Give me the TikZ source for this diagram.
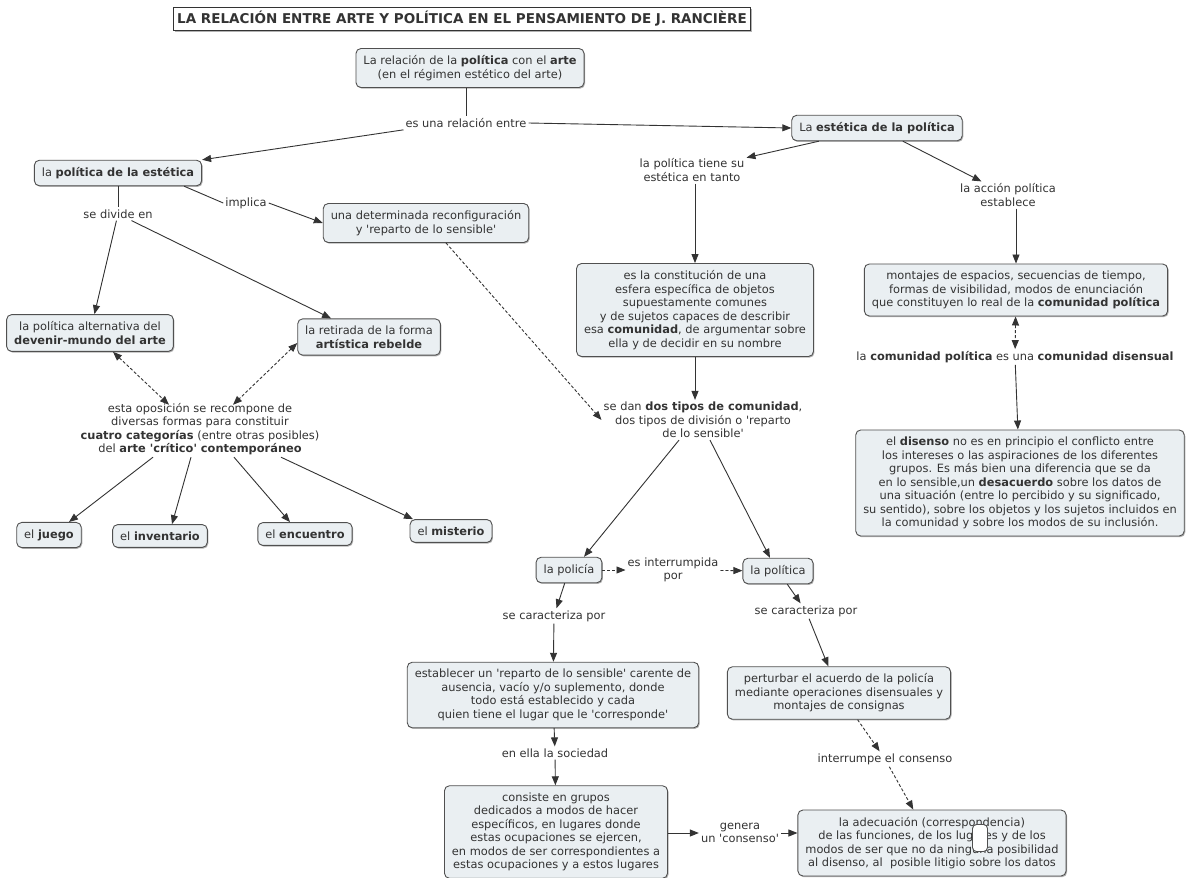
\documentclass[tikz,border=0pt]{standalone}
\usepackage{fontspec}
\setmainfont{DejaVu Sans}[Ligatures=TeXOff]
\usetikzlibrary{arrows.meta,shadows,calc}
\definecolor{ink}{HTML}{333333}
\definecolor{boxfill}{HTML}{EAEFF2}
\definecolor{boxline}{HTML}{505050}
\begin{document}
\begin{tikzpicture}[x=1pt,y=-1pt,
  every node/.style={font=\fontsize{11.4}{13.5}\selectfont, text=ink},
  concept/.style={draw=boxline, fill=boxfill, rounded corners=5pt, line width=0.9pt,
    align=center, inner xsep=7.5pt, inner ysep=7pt,
    drop shadow={shadow xshift=1pt, shadow yshift=-1.2pt, fill=black!30, opacity=1}},
  titlebox/.style={draw=ink, fill=white, line width=1pt, inner xsep=4pt, inner ysep=4pt,
    font=\fontsize{13.5}{15}\selectfont\bfseries,
    drop shadow={shadow xshift=1.5pt, shadow yshift=-1.5pt, fill=black!30, opacity=1}},
  linklbl/.style={align=center, fill=white, inner sep=2pt},
  conn/.style={draw=ink, line width=0.9pt},
  arr/.style={conn, -{Triangle[length=9pt,width=7pt]}},
  darr/.style={arr, dash pattern=on 3pt off 2pt},
  dboth/.style={conn, dash pattern=on 3pt off 2pt,
    {Triangle[length=9pt,width=7pt]}-{Triangle[length=9pt,width=7pt]}},
]
\fill[white] (0,0) rectangle (1189,878);
\useasboundingbox (0,0) rectangle (1189,878);

% title
\node[titlebox] (title) at (462,19) {LA RELACIÓN ENTRE ARTE Y POLÍTICA EN EL PENSAMIENTO DE J. RANCIÈRE};

% top of the map
\node[concept] (top) at (470,68) {La relación de la \textbf{política} con el \textbf{arte}\\(en el régimen estético del arte)};
\node[linklbl] (l1) at (466,123) {es una relación entre};
\node[concept] (estpol) at (877,128) {La \textbf{estética de la política}};
\node[concept] (polest) at (118,173) {la \textbf{política de la estética}};

% left branch
\node[linklbl] (limpl) at (246,203) {implica};
\node[concept] (reconf) at (426,223) {una determinada reconfiguración\\y 'reparto de lo sensible'};
\node[linklbl] (ldiv) at (118,214) {se divide en};
\node[concept] (alt) at (90,333) {la política alternativa del\\\textbf{devenir-mundo del arte}};
\node[concept] (ret) at (369,337) {la retirada de la forma\\\textbf{artística rebelde}};
\node[linklbl] (lopos) at (200,429) {esta oposición se recompone de\\diversas formas para constituir\\\textbf{cuatro categorías} (entre otras posibles)\\del \textbf{arte 'crítico' contemporáneo}};
\node[concept] (juego) at (49,535) {el \textbf{juego}};
\node[concept] (invent) at (160,536) {el \textbf{inventario}};
\node[concept] (encuen) at (305,534) {el \textbf{encuentro}};
\node[concept] (mister) at (451,531) {el \textbf{misterio}};

% right branch
\node[linklbl] (ltiene) at (692,170) {la política tiene su\\estética en tanto};
\node[linklbl] (lacc) at (1008,195) {la acción política\\establece};
\node[concept] (constit) at (695,310) {es la constitución de una\\esfera específica de objetos\\supuestamente comunes\\y de sujetos capaces de describir\\esa \textbf{comunidad}, de argumentar sobre\\ella y de decidir en su nombre};
\node[concept] (montajes) at (1016,290) {montajes de espacios, secuencias de tiempo,\\formas de visibilidad, modos de enunciación\\que constituyen lo real de la \textbf{comunidad política}};
\node[linklbl] (lcom) at (1015,357) {la \textbf{comunidad política} es una \textbf{comunidad disensual}};
\node[concept] (disenso) at (1020,483) {el \textbf{disenso} no es en principio el conflicto entre\\los intereses o las aspiraciones de los diferentes\\grupos. Es más bien una diferencia que se da\\en lo sensible,un \textbf{desacuerdo} sobre los datos de\\una situación (entre lo percibido y su significado,\\su sentido), sobre los objetos y los sujetos incluidos en\\la comunidad y sobre los modos de su inclusión.};

% lower part
\node[linklbl] (ldos) at (703,420) {se dan \textbf{dos tipos de comunidad},\\dos tipos de división o 'reparto\\de lo sensible'};
\node[concept] (policia) at (569,570) {la policía};
\node[linklbl] (linterr) at (673,570) {es interrumpida\\por};
\node[concept] (politica) at (778,571) {la política};
\node[linklbl] (lcar1) at (554,616) {se caracteriza por};
\node[concept] (estab) at (553,695) {establecer un 'reparto de lo sensible' carente de\\ausencia, vacío y/o suplemento, donde\\todo está establecido y cada\\quien tiene el lugar que le 'corresponde'};
\node[linklbl] (lella) at (555,753) {en ella la sociedad};
\node[concept] (consiste) at (556,832) {consiste en grupos\\dedicados a modos de hacer\\específicos, en lugares donde\\estas ocupaciones se ejercen,\\en modos de ser correspondientes a\\estas ocupaciones y a estos lugares};
\node[linklbl] (lgen) at (740,833) {genera\\un 'consenso'};
\node[concept] (adec) at (932,843) {la adecuación (correspondencia)\\de las funciones, de los lugares y de los\\modos de ser que no da ninguna posibilidad\\al disenso, al\ \ posible litigio sobre los datos};
\node[draw=boxline, fill=white, rounded corners=4pt, line width=0.9pt, minimum width=15pt, minimum height=27pt, inner sep=0pt] (stray) at (980,838) {};
\node[linklbl] (lcar2) at (806,611) {se caracteriza por};
\node[concept] (pert) at (839,693) {perturbar el acuerdo de la policía\\mediante operaciones disensuales y\\montajes de consignas};
\node[linklbl] (linterrumpe) at (885,759) {interrumpe el consenso};

% connectors
\draw[conn] (top.south -| l1.north) -- (l1.north);
\draw[arr] (l1.east) -- (estpol.west);
\draw[arr] (l1.south west) -- (polest.north east);
\draw[conn] (polest.south east) ++(-18,0) -- (limpl.west);
\draw[arr] (limpl.east) -- (reconf.west);
\draw[conn] (polest.south -| ldiv.north) -- (ldiv.north);
\draw[arr] (ldiv) -- (alt);
\draw[arr] (ldiv) -- (ret);
\draw[darr] ($(reconf.south)+(20,0)$) -- (ldos.west);
\draw[dboth] ($(alt.south)+(23,0)$) -- ($(lopos.north)+(-31,4)$);
\draw[dboth] ($(ret.west)+(0,6)$) -- ($(lopos.north)+(33,4)$);
\draw[arr] ($(lopos.south)+(-47,0)$) -- ($(juego.north)+(20,0)$);
\draw[arr] ($(lopos.south)+(-9,0)$) -- ($(invent.north)+(12,0)$);
\draw[arr] ($(lopos.south)+(34,0)$) -- ($(encuen.north)+(-15,0)$);
\draw[arr] ($(lopos.south)+(81,0)$) -- ($(mister.north)+(-38,0)$);

\draw[arr] (estpol) -- (ltiene);
\draw[arr] (ltiene.south -| constit.north) -- (constit.north);
\draw[arr] (estpol) -- (lacc);
\draw[arr] (lacc.south -| montajes.north) -- (montajes.north);
\draw[dboth] (montajes) -- (lcom);
\draw[arr] (lcom) -- (disenso);
\draw[arr] (constit.south) -- (constit.south |- ldos.north);
\draw[arr] ($(ldos.south)+(-24,0)$) -- ($(policia.north)+(15,0)$);
\draw[arr] ($(ldos.south)+(7,0)$) -- ($(politica.north)+(-8,0)$);
\draw[darr] (policia) -- (linterr);
\draw[darr] (linterr) -- (politica);
\draw[arr] (policia) -- (lcar1);
\draw[arr] (lcar1) -- (estab);
\draw[arr] (estab) -- (lella);
\draw[arr] (lella) -- (consiste);
\draw[arr] (consiste.east |- lgen.east) -- (lgen.west);
\draw[arr] (lgen.east) -- (lgen.east -| adec.west);
\draw[arr] (politica) -- (lcar2);
\draw[arr] (lcar2) -- (pert);
\draw[darr] (pert) -- (linterrumpe);
\draw[darr] (linterrumpe) -- (adec);
\end{tikzpicture}
\end{document}
